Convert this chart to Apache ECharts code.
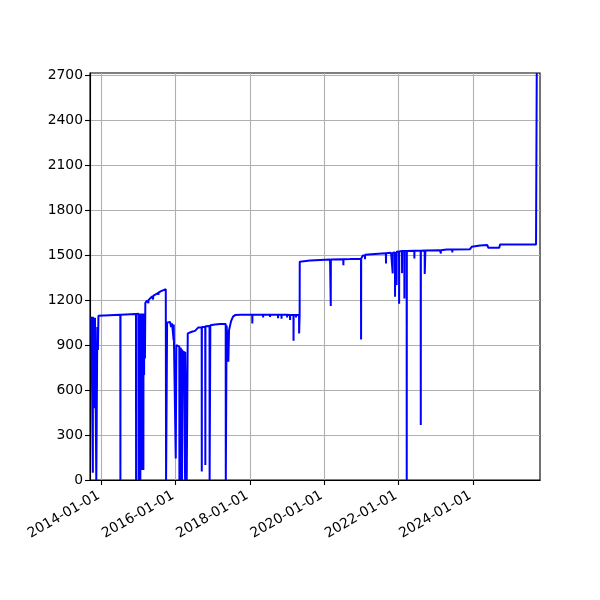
<!DOCTYPE html>
<html>
<head>
<meta charset="utf-8">
<script src="https://cdn.jsdelivr.net/npm/echarts@6.0.0/dist/echarts.min.js"></script>
<style>
  html, body { margin: 0; padding: 0; background: #fff; }
  #chart { width: 600px; height: 600px; }
</style>
</head>
<body>
<div id="chart"></div>
<script>
// ==============================
// data
// ==============================

const dates = [
  '2013-09-25', '2013-10-08', '2013-10-09', '2013-10-10', '2013-10-28', '2013-10-29', '2013-10-30',
  '2013-11-11', '2013-11-12', '2013-11-22', '2013-11-28', '2013-12-03',
  '2014-07-06', '2014-07-07', '2014-07-08', '2014-12-07', '2014-12-08', '2014-12-09',
  '2015-01-01', '2015-01-02', '2015-01-03', '2015-01-18', '2015-01-19', '2015-01-20',
  '2015-01-30', '2015-01-31', '2015-02-01', '2015-02-09', '2015-02-10', '2015-02-11',
  '2015-02-17', '2015-02-18', '2015-02-19', '2015-02-24', '2015-02-25', '2015-02-26',
  '2015-03-04', '2015-03-05', '2015-03-09',
  '2015-03-26', '2015-04-08', '2015-04-09', '2015-04-25', '2015-05-14', '2015-05-24', '2015-05-25',
  '2015-06-13', '2015-07-15', '2015-07-16', '2015-07-17', '2015-08-11', '2015-09-04', '2015-09-26',
  '2015-09-29', '2015-10-09',
  '2015-10-19', '2015-11-07', '2015-11-17', '2015-11-27', '2015-12-11', '2015-12-12', '2015-12-13',
  '2015-12-31', '2016-01-02', '2016-01-08', '2016-01-25',
  '2016-02-06', '2016-02-07', '2016-02-08', '2016-02-19', '2016-02-20', '2016-02-21',
  '2016-03-03', '2016-03-04', '2016-03-05', '2016-03-18', '2016-03-19', '2016-03-20',
  '2016-04-02', '2016-04-03', '2016-04-04', '2016-04-18', '2016-04-19', '2016-04-29',
  '2016-06-08', '2016-07-10', '2016-08-11', '2016-09-13', '2016-09-14', '2016-09-15',
  '2016-10-18', '2016-10-19', '2016-10-20', '2016-11-29', '2016-11-30', '2016-12-07',
  '2017-01-23', '2017-03-13', '2017-05-07', '2017-05-08', '2017-05-16', '2017-05-25', '2017-06-02',
  '2017-06-09', '2017-06-29', '2017-07-18', '2017-08-07',
  '2017-10-01', '2018-01-23', '2018-01-24', '2018-01-25', '2018-05-09', '2018-05-10', '2018-05-11',
  '2018-07-16', '2018-07-17', '2018-07-18', '2018-10-03', '2018-10-04', '2018-10-05',
  '2018-11-06', '2018-11-07', '2018-11-08', '2018-12-31', '2019-01-01', '2019-01-02',
  '2019-01-29', '2019-01-30', '2019-01-31', '2019-03-04', '2019-03-05', '2019-03-06',
  '2019-03-29', '2019-03-30', '2019-03-31', '2019-04-28', '2019-04-29', '2019-05-04', '2019-05-05',
  '2019-08-14', '2019-11-21', '2020-02-27', '2020-03-04', '2020-03-05', '2020-03-06',
  '2020-07-06', '2020-07-07', '2020-07-08', '2020-09-11', '2020-12-27', '2020-12-28', '2020-12-29',
  '2021-01-14', '2021-01-15', '2021-02-04', '2021-02-05', '2021-02-06',
  '2021-05-14', '2021-08-29', '2021-08-30', '2021-08-31', '2021-10-19',
  '2021-11-03', '2021-11-04', '2021-11-05', '2021-11-26', '2021-11-27', '2021-11-28',
  '2021-12-11', '2021-12-12', '2021-12-13', '2022-01-05', '2022-01-06', '2022-01-07',
  '2022-02-03', '2022-02-04', '2022-02-05', '2022-02-26', '2022-02-27', '2022-02-28',
  '2022-03-21', '2022-03-22', '2022-03-23', '2022-06-04', '2022-06-05', '2022-06-06',
  '2022-08-06', '2022-08-07', '2022-08-08', '2022-09-14', '2022-09-15', '2022-09-20', '2022-09-21',
  '2023-02-13', '2023-02-19', '2023-02-20', '2023-02-21', '2023-04-19',
  '2023-06-12', '2023-06-13', '2023-06-14', '2023-12-04', '2023-12-21',
  '2024-03-12', '2024-05-22', '2024-06-01', '2024-09-17', '2024-09-24',
  '2025-09-13', '2025-09-20'
];

const values = [
  1089, 1089, 49, 1089, 1085, 478, 1082,
  1080, 0, 1020, 867, 1095,
  1103, 0, 1103, 1108, 0, 1108,
  1109, 0, 1109, 1110, 0, 1110,
  1110, 67, 1110, 1111, 300, 1111,
  1111, 67, 1111, 1111, 700, 1111,
  1111, 811, 1182,
  1196, 1180, 1200, 1210, 1225, 1205, 1228,
  1240, 1249, 1235, 1250, 1260, 1267, 1273,
  0, 1050,
  1040, 1055, 1020, 1045, 1040, 933, 1038,
  1035, 144, 900, 893,
  890, 0, 889, 885, 0, 882,
  875, 0, 870, 865, 822, 860,
  860, 0, 855, 850, 0, 978,
  989, 995, 1018, 1018, 56, 1020,
  1022, 100, 1025, 1028, 0, 1033,
  1038, 1040, 1040, 0, 1030, 920, 789,
  1000, 1060, 1090, 1100,
  1102, 1103, 1044, 1103, 1103, 1085, 1103,
  1103, 1088, 1103, 1103, 1080, 1103,
  1102, 1075, 1102, 1102, 1085, 1102,
  1100, 1068, 1100, 1100, 929, 1100,
  1100, 1085, 1100, 1100, 978, 1100, 1456,
  1464, 1468, 1471, 1471, 1160, 1471,
  1473, 1433, 1473, 1474, 1476, 938, 1478,
  1482, 1498, 1500, 1472, 1502,
  1508, 1513, 1444, 1513, 1516,
  1516, 1378, 1516, 1518, 1222, 1518,
  1522, 1300, 1522, 1525, 1175, 1525,
  1527, 1380, 1527, 1527, 1211, 1528,
  1528, 0, 1528, 1530, 1478, 1530,
  1530, 367, 1530, 1531, 1375, 1371, 1531,
  1533, 1533, 1511, 1533, 1538,
  1538, 1518, 1538, 1540, 1556,
  1565, 1567, 1549, 1549, 1571,
  1571, 2715
];

const xTicks = ['2014-01-01', '2016-01-01', '2018-01-01', '2020-01-01', '2022-01-01', '2024-01-01'];
const yTicks = [0, 300, 600, 900, 1200, 1500, 1800, 2100, 2400, 2700];

const xStart = '2013-09-11';
const xEnd = '2025-10-22';
const yTop = 2715;

// ==============================
// chart
// ==============================

const toTime = s => echarts.number.parseDate(s).getTime();
const seriesData = dates.map((d, i) => [toTime(d), values[i]]);
const xTickTimes = xTicks.map(toTime);

const labelStyle = {
  color: '#000',
  fontSize: 13.9,
  fontFamily: 'DejaVu Sans'
};

const chart = echarts.init(document.getElementById('chart'), null, { renderer: 'canvas' });

chart.setOption({
  animation: false,
  backgroundColor: '#fff',
  grid: {
    left: 90,
    right: 60,
    top: 73,
    bottom: 120,
    show: true,
    borderColor: '#000',
    borderWidth: 1.1,
    backgroundColor: 'transparent'
  },
  xAxis: {
    type: 'value',
    min: toTime(xStart),
    max: toTime(xEnd),
    axisLine: { show: true, lineStyle: { color: '#000', width: 1.1 } },
    axisTick: {
      show: true,
      length: 5,
      lineStyle: { color: '#000', width: 1.1 },
      customValues: xTickTimes
    },
    axisLabel: {
      ...labelStyle,
      rotate: 30,
      margin: 13,
      padding: [0, 3, 0, 0],
      customValues: xTickTimes,
      formatter: v => echarts.time.format(v, '{yyyy}-{MM}-{dd}', false)
    },
    splitLine: { show: true, lineStyle: { color: '#b0b0b0', width: 1.1 } }
  },
  yAxis: {
    type: 'value',
    min: 0,
    max: yTop,
    axisLine: { show: true, lineStyle: { color: '#000', width: 1.1 } },
    axisTick: {
      show: true,
      length: 5,
      lineStyle: { color: '#000', width: 1.1 },
      customValues: yTicks
    },
    axisLabel: {
      ...labelStyle,
      margin: 7,
      customValues: yTicks,
      formatter: v => String(v)
    },
    splitLine: { show: true, lineStyle: { color: '#b0b0b0', width: 1.1 } }
  },
  series: [
    {
      type: 'line',
      data: seriesData,
      showSymbol: false,
      symbol: 'none',
      clip: true,
      lineStyle: { color: '#0000ff', width: 2 },
      itemStyle: { color: '#0000ff' }
    }
  ]
});
</script>
</body>
</html>
